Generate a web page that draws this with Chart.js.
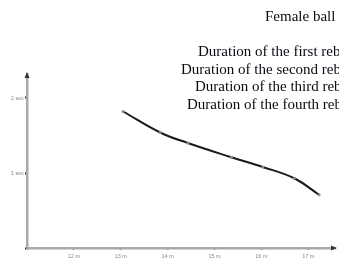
<!DOCTYPE html>
<html>
<head>
<meta charset="utf-8">
<script src="https://cdn.jsdelivr.net/npm/chart.js@4"></script>
<style>
  body { margin: 0; background: #fff; overflow: hidden; }
  #wrap { width: 339px; height: 264px; position: relative; }
</style>
</head>
<body>
<div id="wrap"><canvas id="myChart"></canvas></div>
<script>
// distance in metres vs rebound duration in seconds
let distances = [13.05, 13.84, 14.43, 15.36, 16.03, 16.70, 17.23]
let durations = [1.82, 1.54, 1.40, 1.21, 1.08, 0.93, 0.71]

let xTickValues = [11, 12, 13, 14, 15, 16, 17]
let xTickLabels = ['', '12 m', '13 m', '14 m', '15 m', '16 m', '17 m']
let yTickValues = [0, 1, 2]
let yTickLabels = ['', '1 sec', '2 sec']

let titleText = 'Female ball'
let legendLines = [
    'Duration of the first reb',
    'Duration of the second reb',
    'Duration of the third reb',
    'Duration of the fourth reb'
]

let points = distances.map(function (d, i) {
    return { x: d, y: durations[i] }
})

// text block in the top right and the little arrow heads on the axes
const extras = {
    id: 'extras',
    afterDraw(chart) {
        let ctx = chart.ctx
        let area = chart.chartArea
        ctx.save()
        ctx.fillStyle = '#0a0a14'
        ctx.font = '15px "Liberation Serif", serif'
        ctx.textBaseline = 'middle'
        ctx.textAlign = 'left'
        ctx.fillText(titleText, 265, 17)
        let starts = [198, 181, 195, 187]
        legendLines.forEach(function (line, i) {
            ctx.fillText(line, starts[i], 52 + i * 17.7)
        })

        ctx.fillStyle = '#333'
        ctx.beginPath()
        ctx.moveTo(area.left, area.top - 2)
        ctx.lineTo(area.left - 2.5, area.top + 4)
        ctx.lineTo(area.left + 2.5, area.top + 4)
        ctx.fill()
        ctx.beginPath()
        ctx.moveTo(area.right + 2, area.bottom)
        ctx.lineTo(area.right - 4, area.bottom - 2.5)
        ctx.lineTo(area.right - 4, area.bottom + 2.5)
        ctx.fill()
        ctx.restore()
    }
}

let currChart = document.getElementById('myChart').getContext('2d')

Chart.defaults.font.family = '"Liberation Sans", sans-serif'

let lineChart = new Chart(currChart, {
    type: 'line',
    data: {
        datasets: [{
            data: points,
            borderColor: '#1a1a1a',
            borderWidth: 2,
            tension: 0.4,
            pointRadius: 1.5,
            pointBackgroundColor: '#888',
            pointBorderColor: '#888',
            pointBorderWidth: 0
        }]
    },
    options: {
        responsive: true,
        maintainAspectRatio: false,
        animation: false,
        layout: { padding: { top: 74, right: 3, left: 0, bottom: 0 } },
        plugins: {
            legend: { display: false },
            tooltip: { enabled: false }
        },
        scales: {
            x: {
                type: 'linear',
                min: 11,
                max: 17.57,
                afterBuildTicks: function (scale) {
                    scale.ticks = xTickValues.map(function (v) { return { value: v } })
                },
                afterFit: function (scale) { scale.height = 16 },
                ticks: {
                    font: { size: 5.5 },
                    color: '#888',
                    padding: 3,
                    maxRotation: 0,
                    callback: function (value) {
                        return xTickLabels[xTickValues.indexOf(value)]
                    }
                },
                grid: {
                    drawOnChartArea: false,
                    tickLength: 2,
                    tickWidth: 2,
                    tickColor: '#222'
                },
                border: { color: '#aaa', width: 2.5 }
            },
            y: {
                min: 0,
                max: 2.32,
                afterBuildTicks: function (scale) {
                    scale.ticks = yTickValues.map(function (v) { return { value: v } })
                },
                afterFit: function (scale) { scale.width = 27 },
                ticks: {
                    font: { size: 5.5 },
                    color: '#888',
                    padding: 1,
                    callback: function (value) {
                        return yTickLabels[yTickValues.indexOf(value)]
                    }
                },
                grid: {
                    drawOnChartArea: false,
                    tickLength: 2,
                    tickWidth: 2,
                    tickColor: '#222'
                },
                border: { color: '#aaa', width: 2.5 }
            }
        }
    },
    plugins: [extras]
})
</script>
</body>
</html>
